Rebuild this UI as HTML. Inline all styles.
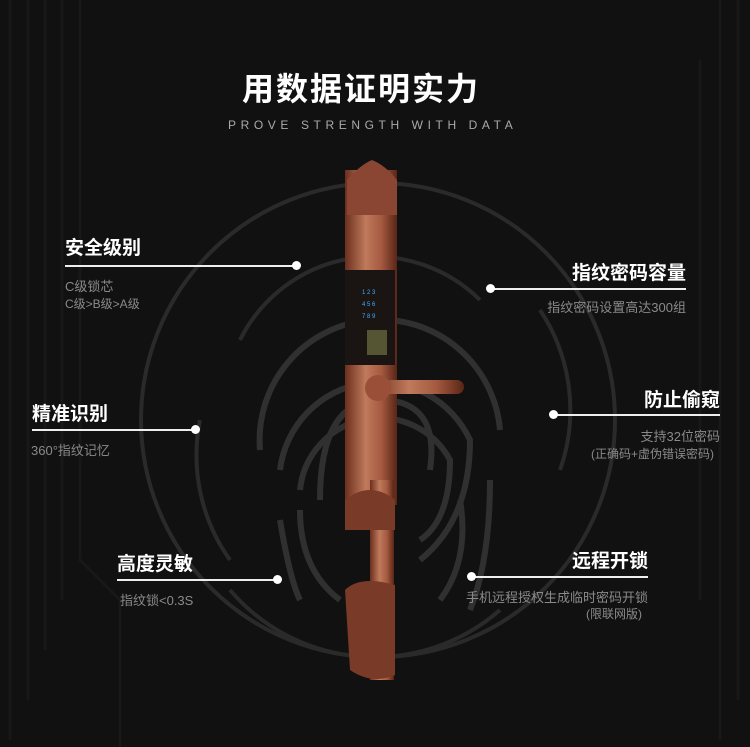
<!DOCTYPE html>
<html><head><meta charset="utf-8"><style>
body{margin:0;width:750px;height:747px;background:#111;overflow:hidden;position:relative;font-family:"Liberation Sans","Noto Sans CJK SC",sans-serif}
.t{position:absolute;color:#fff;font-weight:bold;font-size:19px;white-space:nowrap}
.s{position:absolute;color:#8a8a8a;font-size:13px;white-space:nowrap}
.l{position:absolute;height:2px;background:#eee}
.d{position:absolute;width:9px;height:9px;border-radius:50%;background:#fff}
.r{text-align:right}
</style></head><body>
<svg width="750" height="747" style="position:absolute;left:0;top:0">
<defs><linearGradient id="cu" x1="0" x2="1"><stop offset="0" stop-color="#6b2f1e"/><stop offset=".4" stop-color="#c07a5c"/><stop offset=".7" stop-color="#a45a40"/><stop offset="1" stop-color="#5a2516"/></linearGradient></defs>
<g fill="none" stroke="#181818" stroke-width="3">
<path d="M10 0V740M28 0V700M45 0V650M62 0V600 M80 0V560L120 600V747M720 0V740M738 0V700M700 60V600"/>
</g>
<g fill="none" stroke="#2a2a2a" stroke-width="4">
<circle cx="378" cy="420" r="237"/>
<path d="M240 340A150 150 0 0 1 480 300M200 420A180 180 0 0 0 230 560M540 310A180 180 0 0 1 560 470M230 590A190 190 0 0 0 500 610"/>
</g>
<g fill="none" stroke="#303030" stroke-width="6">
<path d="M260 450A120 120 0 0 1 500 430M280 470A100 100 0 0 1 470 440Q470 520 420 560M300 490A80 80 0 0 1 450 460Q450 520 420 540M320 500Q320 400 380 400Q440 400 430 470M300 510Q300 570 340 600M280 520Q290 580 300 600M460 500Q470 560 440 600M490 480Q490 560 470 610"/>
</g>
<rect x="345" y="170" width="52" height="335" fill="url(#cu)"/>
<path d="M347 215L347 180Q360 165 372 160Q385 165 397 180L397 215Z" fill="#8a4632"/>
<rect x="345" y="270" width="50" height="95" fill="#1a1512"/>
<rect x="367" y="330" width="20" height="25" fill="#553"/>
<rect x="370" y="480" width="24" height="200" fill="url(#cu)"/>
<path d="M345 500Q370 480 395 500L395 530L345 530Z" fill="#7a3a28"/>
<path d="M345 590Q360 575 395 585L395 675Q372 685 350 670Z" fill="#7a3a28"/>
<rect x="372" y="380" width="92" height="14" rx="7" fill="url(#cu)"/>
<circle cx="378" cy="388" r="13" fill="#9a5038"/>
<g fill="#4af" font-size="6"><text x="362" y="294">1 2 3</text><text x="362" y="306">4 5 6</text><text x="362" y="318">7 8 9</text></g>
</svg>
<div class="t" style="left:242px;top:64px;font-size:32px;letter-spacing:2px">用数据证明实力</div>
<div class="s" style="left:228px;top:118px;font-size:12px;letter-spacing:4.6px;color:#aaa">PROVE STRENGTH WITH DATA</div>

<div class="t" style="left:65px;top:233px">安全级别</div>
<div class="l" style="left:65px;top:265px;width:232px"></div><div class="d" style="left:292px;top:261px"></div>
<div class="s" style="left:65px;top:276px">C级锁芯</div>
<div class="s" style="left:65px;top:295px;font-size:12px">C级&gt;B级&gt;A级</div>

<div class="t" style="left:32px;top:399px">精准识别</div>
<div class="l" style="left:32px;top:429px;width:164px"></div><div class="d" style="left:191px;top:425px"></div>
<div class="s" style="left:31px;top:440px">360°指纹记忆</div>

<div class="t" style="left:117px;top:549px">高度灵敏</div>
<div class="l" style="left:117px;top:579px;width:161px"></div><div class="d" style="left:273px;top:575px"></div>
<div class="s" style="left:120px;top:590px">指纹锁&lt;0.3S</div>

<div class="t r" style="right:64px;top:258px">指纹密码容量</div>
<div class="l" style="left:490px;top:288px;width:196px"></div><div class="d" style="left:486px;top:284px"></div>
<div class="s r" style="right:64px;top:297px">指纹密码设置高达300组</div>

<div class="t r" style="right:30px;top:385px">防止偷窥</div>
<div class="l" style="left:553px;top:414px;width:167px"></div><div class="d" style="left:549px;top:410px"></div>
<div class="s r" style="right:30px;top:426px">支持32位密码</div>
<div class="s r" style="right:36px;top:445px;font-size:12px">(正确码+虚伪错误密码)</div>

<div class="t r" style="right:102px;top:546px">远程开锁</div>
<div class="l" style="left:471px;top:576px;width:177px"></div><div class="d" style="left:467px;top:572px"></div>
<div class="s r" style="right:102px;top:587px">手机远程授权生成临时密码开锁</div>
<div class="s r" style="right:108px;top:605px;font-size:12px">(限联网版)</div>
</body></html>
